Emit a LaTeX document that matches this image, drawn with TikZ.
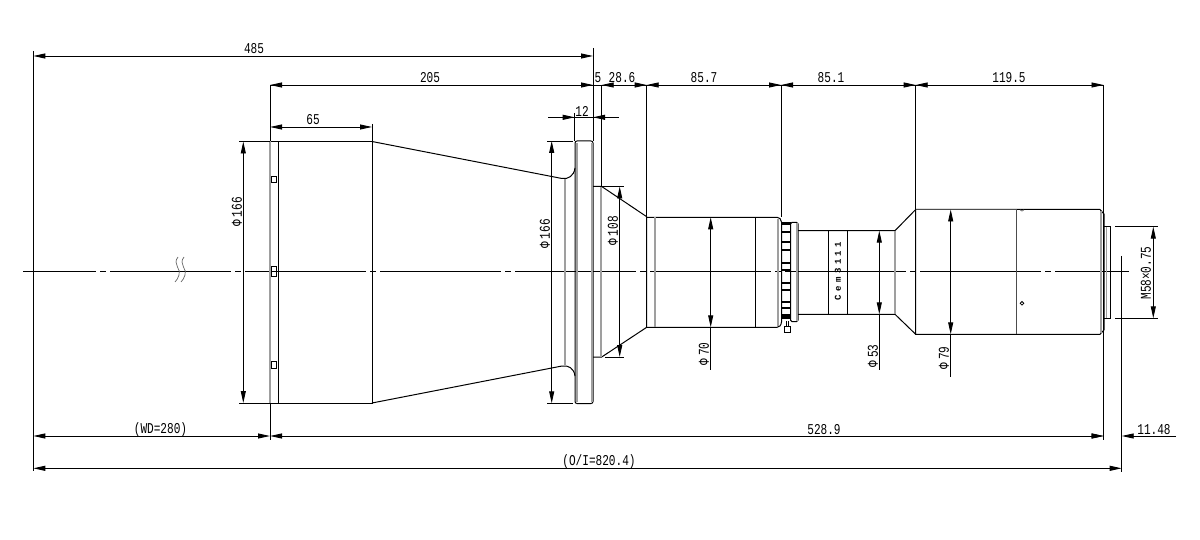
\documentclass[tikz,border=0pt]{standalone}
\usepackage{fontspec}
\newfontfamily\dimfont[FakeStretch=0.74]{Liberation Mono}
\newfontfamily\markfont[LetterSpace=38]{Liberation Mono}
\usetikzlibrary{arrows.meta}
\tikzset{
  tip/.tip={Triangle[length=12pt,width=5pt]},
  part/.style={line width=1pt},
  partgrey/.style={line width=1.3pt,gray!75},
  partdark/.style={line width=1.2pt,gray!60!black},
  extline/.style={line width=.9pt},
  dimline/.style={line width=.9pt,{tip}-{tip}},
  arrowhead/.style={line width=.9pt,-{tip}},
  dimlabel/.style={inner sep=0pt,font=\dimfont\fontsize{15}{15}\selectfont},
  axisline/.style={line width=.9pt,dash pattern=on 121pt off 4pt on 6pt off 4pt,dash phase=48pt},
}
\begin{document}
\begin{tikzpicture}[x=1pt,y=-1pt]
  \useasboundingbox (0,0) rectangle (1200,540);

  % centre line and break mark
  \coordinate (axisL) at (23,271);
  \coordinate (axisR) at (1129,271);
  \draw [axisline] (axisL) -- (axisR);
  \foreach \x in {0,6}
    \draw [line width=.7pt,gray!80!black] (178+\x,257) .. controls (172+\x,264) and (182+\x,270) .. (179+\x,275) .. controls (178+\x,278) and (177+\x,280) .. (175+\x,282);

  % hood
  \draw [part] (270,141.5) -- (372,141.5) -- (372,403) -- (270,403);
  \draw [partgrey] (270,141.5) -- (270,403);
  \draw [part] (278,141.5) -- (278,403);
  \foreach \ya/\yb in {176.5/183,267/277,361/368}
    \draw [part] (271,\ya) rectangle (276,\yb);

  % cone and flange
  \draw [part] (372,141.5) -- (562,178.5) .. controls (568,179.5) and (574,176) .. (575,168);
  \draw [part] (372,403) -- (562,366) .. controls (568,365) and (574,368) .. (575,376);
  \draw [partgrey] (565,179) -- (565,365);
  \draw [part,rounded corners=2pt] (575,141) rectangle (593,403.5);
  \draw [partgrey] (577,143) -- (577,402);
  \draw [partgrey] (592,143) -- (592,402);

  % rear cone
  \draw [part] (593,186.5) -- (601.7,186.5) -- (646.7,216.7) -- (646.7,327.3) -- (601.7,357) -- (593,357);
  \draw [partgrey] (601,187) -- (601,357);

  % front barrel
  \draw [part] (646.7,217.3) -- (777,217.3) .. controls (779.5,217.3) and (781,219) .. (781.5,222) -- (781.5,322) .. controls (781,325.5) and (779.5,327.3) .. (777,327.3) -- (646.7,327.3);
  \draw [partgrey] (655,217.3) -- (655,327.3);
  \draw [part] (755,217.3) -- (755,327.3);
  \draw [partgrey] (778,219) -- (778,326);

  % focus ring
  \draw [part] (781.5,223) rectangle (790.5,318);
  \foreach \y in {224,232,242,250,263,270,283,290,302,308,315,317}
    \draw [line width=1.2pt] (782,\y) -- (790,\y);
  \draw [part,rounded corners=1.5pt] (790.5,222.3) rectangle (798,321.7);
  \draw [partgrey] (797,223) -- (797,321);
  \draw [part] (784.7,326) rectangle (790,332.7);
  \draw [part] (786.7,321) -- (786.7,326) (788.7,321) -- (788.7,326);

  % mid barrel
  \draw [part] (798,230.7) -- (895,230.7) -- (915.7,209.5);
  \draw [part] (798,314.3) -- (895,314.3) -- (915.7,334.3);
  \draw [part] (828.7,230.7) -- (828.7,314.3);
  \draw [part] (847.7,230.7) -- (847.7,314.3);
  \draw [partgrey] (895,230.7) -- (895,314.3);
  \node [rotate=90,inner sep=0pt,font=\markfont\bfseries\fontsize{9}{9}\selectfont] (mark) at (838,271) {Cem3111};

  % rear barrel
  \draw [part] (915.7,209.5) -- (1100,209.5) -- (1104,214) -- (1104,330) -- (1100,334.3) -- (915.7,334.3) -- cycle;
  \draw [partdark] (916,209.5) -- (1016,209.5);
  \draw [partdark] (1016.7,209.5) -- (1016.7,334.3);
  \draw [line width=.7pt,gray!80!black] (1020,209.8) .. controls (1021,211.5) and (1023,211.5) .. (1024,209.8);
  \draw [line width=.8pt] (1022,303.3) circle (1.8pt);
  \draw [partgrey] (1101,211) -- (1101,333);
  \draw [part] (1104,226.7) -- (1110.7,226.7) -- (1110.7,318.3) -- (1104,318.3);
  \draw [partgrey] (1106.5,227) -- (1106.5,318);

  % extension lines
  \draw [extline] (33.3,51) -- (33.3,471);
  \draw [extline] (593,48) -- (593,141);
  \draw [extline] (270,85) -- (270,141.5) (270,403) -- (270,440);
  \draw [extline] (372,124) -- (372,141.5);
  \draw [extline] (574.7,113) -- (574.7,141);
  \foreach \x/\y in {601.7/186.5,646.7/216.7,781/217.3,915.7/209.5}
    \draw [extline] (\x,85) -- (\x,\y);
  \draw [extline] (1103.5,85) -- (1103.5,440);
  \draw [extline] (1121.7,256) -- (1121.7,471.5);
  \foreach \xa/\xb/\y in {239/270/141.5,239/270/403,547/573/141,547/573/403.3,602/624/186.5,605/624/357,1115/1158/226.7,1115/1158/318.3}
    \draw [extline] (\xa,\y) -- (\xb,\y);

  % top dimensions
  \coordinate (oal) at (33.3,56);
  \coordinate (flange) at (593,56);
  \draw [dimline] (oal) -- (flange);
  \draw [extline] (270,85) -- (1103.5,85);
  \foreach \xa/\xb in {282/270,581/593,614/601.7,634/646.7,659/646.7,769/781,793/781,904/915.7,928/915.7,1091/1103.5}
    \draw [arrowhead] (\xa,85) -- (\xb,85);
  \coordinate (hoodL) at (270,127);
  \coordinate (hoodR) at (372,127);
  \draw [dimline] (hoodL) -- (hoodR);
  \draw [extline] (548,117.3) -- (619,117.3);
  \draw [arrowhead] (562,117.3) -- (574.7,117.3);
  \draw [arrowhead] (605,117.3) -- (593,117.3);

  \node [dimlabel] (l485) at (254,49) {485};
  \node [dimlabel] (l205) at (430,77.5) {205};
  \node [dimlabel] (l5) at (598,78) {5};
  \node [dimlabel] (l286) at (622,78) {28.6};
  \node [dimlabel] (l857) at (704,78) {85.7};
  \node [dimlabel] (l851) at (831,78) {85.1};
  \node [dimlabel] (l1195) at (1009,78) {119.5};
  \node [dimlabel] (l65) at (313,120) {65};
  \node [dimlabel] (l12) at (582,111) {12};

  % diameters
  \foreach \n/\x/\ya/\yb/\xt/\yt/\txt in {
    a/243.3/141.5/403/237/212/166,
    b/551.7/141/403.3/545/234/166,
    c/619.7/186.5/357/613/231/108,
    d/710.7/217.3/327.3/704/354/70,
    e/879.3/230.7/314.3/873/356/53,
    f/950.7/209.5/334.3/944/358/79}
  {
    \draw [dimline] (\x,\ya) -- (\x,\yb);
    \node [dimlabel,rotate=90] (dia\n) at (\xt,\yt) {Φ\kern3pt\txt};
  }
  \draw [extline] (710.7,327.3) -- (710.7,370);
  \draw [extline] (879.3,314.3) -- (879.3,370);
  \draw [extline] (950.7,334.3) -- (950.7,377);

  % thread
  \coordinate (threadT) at (1153.3,226.7);
  \coordinate (threadB) at (1153.3,318.3);
  \draw [dimline] (threadT) -- (threadB);
  \node [dimlabel,rotate=90] (thread) at (1146,273) {M58×0.75};

  % bottom dimensions
  \coordinate (wdL) at (33.3,436);
  \coordinate (wdR) at (270,436);
  \coordinate (lenR) at (1103.5,436);
  \coordinate (imgL) at (1121.7,436);
  \coordinate (imgR) at (1176,436);
  \draw [dimline] (wdL) -- (wdR);
  \draw [dimline] (wdR) -- (lenR);
  \draw [arrowhead] (imgR) -- (imgL);
  \draw [arrowhead] (1091,436) -- (lenR);
  \coordinate (oiL) at (33.3,468.3);
  \coordinate (oiR) at (1121.7,468.3);
  \draw [dimline] (oiL) -- (oiR);

  \node [dimlabel] (lwd) at (160.5,430) {(WD=280)};
  \node [dimlabel] (l529) at (824,430) {528.9};
  \node [dimlabel] (l1148) at (1154,430) {11.48};
  \node [dimlabel] (loi) at (599,462) {(O/I=820.4)};
\end{tikzpicture}
\end{document}
